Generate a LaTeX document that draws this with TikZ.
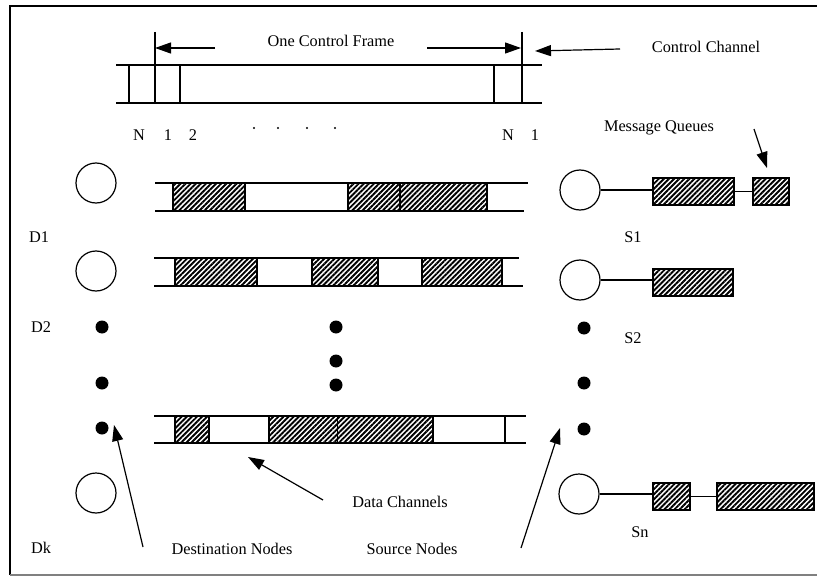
\documentclass[tikz,border=0pt]{standalone}
\usepackage{fontspec}
\setmainfont{Liberation Serif}
\usetikzlibrary{arrows.meta,patterns.meta}
\begin{document}
\begin{tikzpicture}[x=1pt,y=-1pt,
  every node/.style={font=\fontsize{16.3}{19}\selectfont},
  ln/.style={line width=1.3pt},
  hatch/.style={draw,line width=1.2pt,pattern={Lines[angle=45,distance=3.6pt,line width=1.9pt]}},
  plain/.style={draw,line width=1.2pt,fill=white},
  nodec/.style={circle,draw,line width=1.2pt,minimum size=40pt,inner sep=0pt},
  bigdot/.style={circle,fill=black,minimum size=13pt,inner sep=0pt},
  tinydot/.style={circle,fill=black,minimum size=2.2pt,inner sep=0pt},
  arr/.style={line width=1.2pt,-{Triangle[length=16pt,width=11pt]}},
  qbox/.style={hatch,inner sep=0pt,minimum height=27pt}
]
\useasboundingbox (0,0) rectangle (817,578);
% frame
\draw[line width=1.3pt] (10,575) -- (10,6) -- (817,6);
\draw[gray,line width=1.2pt] (10,575) -- (817,575);

% control channel
\draw[ln] (116,65) -- (542,65);
\draw[ln] (116,103) -- (542,103);
\draw[ln] (129,65) -- (129,103);
\draw[ln] (155,32) -- (155,103);
\draw[ln] (180,65) -- (180,103);
\draw[ln] (494,65) -- (494,103);
\draw[ln] (522,32) -- (522,103);
\node (frame) at (331,41) {One Control Frame};
\coordinate (fl0) at (215,48); \coordinate (fl1) at (155,48);
\coordinate (fr0) at (427,48); \coordinate (fr1) at (521,48);
\draw[arr] (fl0) -- (fl1);
\draw[arr] (fr0) -- (fr1);
\node (cc) at (706,47) {Control Channel};
\coordinate (cc0) at (620,49); \coordinate (cc1) at (535,51);
\draw[arr] (cc0) -- (cc1);
\node (n1) at (139,135) {N};
\node (o1) at (168,135) {1};
\node (t1) at (193,135) {2};
\node[tinydot] (p1) at (254,128) {};
\node[tinydot] (p2) at (278,128) {};
\node[tinydot] (p3) at (307,128) {};
\node[tinydot] (p4) at (335,128) {};
\node (n2) at (508,135) {N};
\node (o2) at (535,135) {1};

% message queues label
\node (mq) at (659,128) {Message Queues};
\coordinate (mq0) at (754,129); \coordinate (mq1) at (767,168);
\draw[arr] (mq0) -- (mq1);

% data channel 1
\draw[ln] (155,183) -- (528,183);
\draw[ln] (155,211) -- (524,211);
\draw[hatch] (173,183) rectangle (245,211);
\draw[plain] (245,183) rectangle (348,211);
\draw[hatch] (348,183) rectangle (400,211);
\draw[hatch] (400,183) rectangle (487,211);

% data channel 2
\draw[ln] (154,258) -- (519,258);
\draw[ln] (154,286) -- (523,286);
\draw[hatch] (175,258) rectangle (257,286);
\draw[plain] (257,258) rectangle (312,286);
\draw[hatch] (312,258) rectangle (378,286);
\draw[plain] (378,258) rectangle (422,286);
\draw[hatch] (422,258) rectangle (502,286);

% data channel 3
\draw[ln] (154,416) -- (526,416);
\draw[ln] (154,443) -- (526,443);
\draw[hatch] (175,416) rectangle (209,443);
\draw[plain] (209,416) rectangle (269,443);
\draw[hatch] (269,416) rectangle (337.5,443);
\draw[hatch] (337.5,416) rectangle (433,443);
\draw[plain] (433,416) rectangle (505,443);

% destination nodes
\node[nodec] (D1c) at (96,183) {};
\node[nodec] (D2c) at (96,271) {};
\node[nodec] (Dkc) at (96,493) {};
\node (D1) at (39,237) {D1};
\node (D2) at (41,327) {D2};
\node (Dk) at (41,548) {Dk};
\node[bigdot] (ld1) at (102,327) {};
\node[bigdot] (ld2) at (102,383) {};
\node[bigdot] (ld3) at (102,428) {};
\node[bigdot] (md1) at (336,327) {};
\node[bigdot] (md2) at (336,361) {};
\node[bigdot] (md3) at (336,385) {};
\node[bigdot] (rd1) at (584,328) {};
\node[bigdot] (rd2) at (584,383) {};
\node[bigdot] (rd3) at (584,429) {};

% source nodes
\node[nodec] (S1c) at (580,190) {};
\node[nodec] (S2c) at (580,280) {};
\node[nodec] (Snc) at (579,494) {};
\node (S1) at (633,237) {S1};
\node (S2) at (633,338) {S2};
\node (Sn) at (640,532) {Sn};
\node[qbox,minimum width=81pt] (q11) at (693.5,191.5) {};
\node[qbox,minimum width=36pt] (q12) at (771,191.5) {};
\node[qbox,minimum width=80pt] (q21) at (693,282.5) {};
\node[qbox,minimum width=37pt] (qn1) at (671.5,496.5) {};
\node[qbox,minimum width=97pt] (qn2) at (765.5,496.5) {};
\draw[line width=1.2pt] (S1c.east) -- (S1c.east -| q11.west);
\draw[line width=1.2pt] (q11.east) -- (q12.west);
\draw[line width=1.2pt] (S2c.east) -- (S2c.east -| q21.west);
\draw[line width=1.2pt] (Snc.east) -- (Snc.east -| qn1.west);
\draw[line width=1.2pt] (qn1.east) -- (qn2.west);

% bottom labels and arrows
\node (dc) at (400,502) {Data Channels};
\node (dn) at (232,549) {Destination Nodes};
\node (sn) at (412,549) {Source Nodes};
\coordinate (dc0) at (323,500); \coordinate (dc1) at (248,457);
\draw[arr] (dc0) -- (dc1);
\coordinate (dn0) at (143,547); \coordinate (dn1) at (114,425);
\draw[arr] (dn0) -- (dn1);
\coordinate (sn0) at (521,548); \coordinate (sn1) at (560,428);
\draw[arr] (sn0) -- (sn1);
\end{tikzpicture}
\end{document}
